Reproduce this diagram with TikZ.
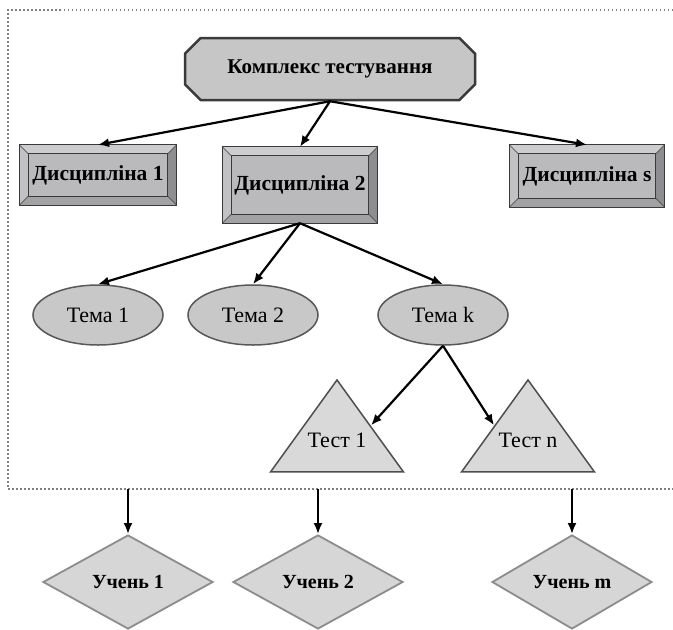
\documentclass[tikz,border=0pt]{standalone}
\usepackage{fontspec}
\setmainfont{Liberation Serif}
\usetikzlibrary{arrows.meta,positioning,calc,shapes.geometric,shapes.misc}

\definecolor{headfill}{HTML}{C6C6C6}
\definecolor{headline}{HTML}{3A3A3A}
\definecolor{discfill}{HTML}{BABABC}
\definecolor{bevtop}{HTML}{CDCDCF}
\definecolor{bevleft}{HTML}{C2C2C4}
\definecolor{bevright}{HTML}{8E8E90}
\definecolor{bevbottom}{HTML}{A2A2A4}
\definecolor{topicfill}{HTML}{C8C8C8}
\definecolor{testfill}{HTML}{D9D9D9}
\definecolor{pupilfill}{HTML}{D6D6D6}

% bevel frame round a discipline box
\newcommand\bevel[1]{%
  \fill[bevtop] (#1.north west) -- (#1.north east) -- ($(#1.north east)+(-9,9)$) -- ($(#1.north west)+(9,9)$) -- cycle;
  \fill[bevleft] (#1.north west) -- ($(#1.north west)+(9,9)$) -- ($(#1.south west)+(9,-9)$) -- (#1.south west) -- cycle;
  \fill[bevright] (#1.north east) -- ($(#1.north east)+(-9,9)$) -- ($(#1.south east)+(-9,-9)$) -- (#1.south east) -- cycle;
  \fill[bevbottom] (#1.south west) -- ($(#1.south west)+(9,-9)$) -- ($(#1.south east)+(-9,-9)$) -- (#1.south east) -- cycle;
  \draw[headline, line width=1pt] (#1.north west) rectangle (#1.south east);
  \draw[headline, line width=0.8pt] ($(#1.north west)+(9,9)$) rectangle ($(#1.south east)+(-9,-9)$);
  \draw[headline, line width=0.6pt] (#1.north west) -- ++(9,9) (#1.north east) -- ++(-9,9)
    (#1.south west) -- ++(9,-9) (#1.south east) -- ++(-9,-9);
}

\begin{document}
\begin{tikzpicture}[x=1pt, y=-1pt,
  head/.style={chamfered rectangle, chamfered rectangle xsep=14pt, draw=headline, line width=2.5pt,
    fill=headfill, minimum width=290pt, minimum height=62pt, font=\fontsize{21}{25}\selectfont\bfseries},
  disc/.style={rectangle, fill=discfill, minimum width=157pt, minimum height=60pt, inner sep=0pt,
    font=\fontsize{21.5}{24}\selectfont\bfseries},
  topic/.style={ellipse, draw=headline!85, line width=1.5pt, fill=topicfill,
    minimum width=130pt, minimum height=60pt, font=\fontsize{22}{26}\selectfont},
  testbox/.style={isosceles triangle, isosceles triangle stretches, shape border rotate=90,
    draw=headline!90, line width=1.5pt, fill=testfill, minimum width=133pt, minimum height=92pt,
    inner sep=0pt},
  testtext/.style={font=\fontsize{22}{26}\selectfont},
  pupil/.style={diamond, draw=gray!90, line width=1.8pt, fill=pupilfill,
    minimum width=170pt, minimum height=94pt, inner sep=0pt, font=\fontsize{20}{24}\selectfont\bfseries},
  arrow/.style={-{Latex[length=11pt,width=9pt]}, line width=2.2pt},
  frame/.style={gray, line width=1.4pt, dash pattern=on 1.5pt off 2.5pt}
]
\useasboundingbox (0,0) rectangle (673,630);

\draw[frame] (673,10) -- (8,10) -- (8,489) -- (673,489);

\node[head] (complex) at (330,69) {Комплекс тестування};

\node[disc] (d1) at (98,175) {Дисципліна 1};
\bevel{d1}
\node[disc, minimum width=155pt, minimum height=76pt] (d2) at (300,185) {Дисципліна 2};
\bevel{d2}
\node[disc, minimum width=155pt, minimum height=62pt] (ds) at (587,176) {Дисципліна s};
\bevel{ds}

\node[topic] (t1) at (98,315) {Тема 1};
\node[topic] (t2) at (253,315) {Тема 2};
\node[topic] (tk) at (443,315) {Тема k};

\node[testbox, anchor=apex] (test1) at (337,378) {};
\node[testtext] (test1text) at (337,440) {Тест 1};
\node[testbox, anchor=apex] (testn) at (528,378) {};
\node[testtext] (testntext) at (528,440) {Тест n};

\node[pupil] (p1) at (128,582) {Учень 1};
\node[pupil] (p2) at (318,582) {Учень 2};
\node[pupil, minimum width=160pt] (pm) at (572,582) {Учень m};

\coordinate (c1) at (128,489);
\coordinate (c2) at (318,489);
\coordinate (cm) at (572,489);

\draw[arrow] (complex.south) -- (d1.north);
\draw[arrow] (complex.south) -- (d2.north);
\draw[arrow] (complex.south) -- (ds.north);

\draw[arrow] (d2.south) -- (t1.north);
\draw[arrow] (d2.south) -- (t2.north);
\draw[arrow] (d2.south) -- (tk.north);

\draw[arrow] (tk.south) -- (test1.right side);
\draw[arrow] (tk.south) -- (testn.left side);

\draw[arrow] (c1) -- (p1.north);
\draw[arrow] (c2) -- (p2.north);
\draw[arrow] (cm) -- (pm.north);

\end{tikzpicture}
\end{document}
